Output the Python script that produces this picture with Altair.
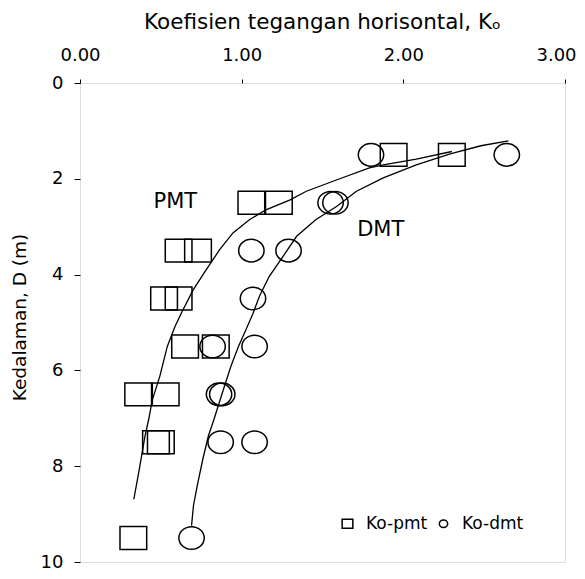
import altair as alt
import pandas as pd

# ---- data ----
depth_pmt = [1.5, 1.5, 2.5, 2.5, 3.5, 3.5, 4.5, 4.5, 5.5, 5.5, 6.5, 6.5, 7.5, 7.5, 9.5]
ko_pmt = [1.94, 2.30, 1.06, 1.23, 0.61, 0.73, 0.52, 0.61, 0.65, 0.84, 0.36, 0.53, 0.47, 0.50, 0.33]

depth_dmt = [1.5, 1.5, 2.5, 2.5, 3.5, 3.5, 4.5, 5.5, 5.5, 6.5, 6.5, 7.5, 7.5, 9.5]
ko_dmt = [1.80, 2.64, 1.55, 1.58, 1.06, 1.29, 1.07, 0.82, 1.08, 0.86, 0.88, 0.87, 1.08, 0.69]

# fitted trend curves (traced)
curve_pmt_ko = [2.30, 2.08, 1.876, 1.79, 1.59, 1.40, 1.30, 1.15, 1.05, 0.946, 0.864, 0.78, 0.70,
                0.63, 0.587, 0.540, 0.494, 0.448, 0.425, 0.402, 0.367, 0.333]
curve_pmt_d = [1.43, 1.59, 1.71, 1.77, 2.02, 2.26, 2.44, 2.65, 2.85, 3.13, 3.48, 3.90, 4.32,
               4.78, 5.09, 5.50, 6.12, 6.61, 7.02, 7.37, 8.06, 8.69]
curve_dmt_ko = [2.65, 2.48, 2.29, 2.08, 1.876, 1.71, 1.587, 1.46, 1.34, 1.256, 1.17, 1.11,
                1.07, 1.025, 0.98, 0.933, 0.887, 0.829, 0.794, 0.76, 0.725, 0.702, 0.69]
curve_dmt_d = [1.21, 1.31, 1.48, 1.71, 1.98, 2.26, 2.58, 2.85, 3.20, 3.62, 4.04, 4.45,
               4.81, 5.16, 5.50, 5.92, 6.40, 7.02, 7.37, 7.85, 8.41, 8.82, 9.24]

x_ticks = [0, 1, 2, 3]
y_ticks = [0, 2, 4, 6, 8, 10]

labels_text = ["PMT", "DMT"]
labels_ko = [0.59, 1.86]
labels_d = [2.60, 3.20]

series_names = ["Ko-pmt", "Ko-dmt"]

# ---- tables ----
pts = pd.DataFrame({
    "ko": ko_pmt + ko_dmt,
    "depth": depth_pmt + depth_dmt,
    "series": [series_names[0]] * len(ko_pmt) + [series_names[1]] * len(ko_dmt),
})
lines = pd.DataFrame({
    "ko": curve_pmt_ko + curve_dmt_ko,
    "depth": curve_pmt_d + curve_dmt_d,
    "curve": ["PMT"] * len(curve_pmt_ko) + ["DMT"] * len(curve_dmt_ko),
    "ord": list(range(len(curve_pmt_ko))) + list(range(len(curve_dmt_ko))),
})
labels = pd.DataFrame({"ko": labels_ko, "depth": labels_d, "text": labels_text})

# marker shapes (slightly wide, like the reference)
sq_path = "M-1,-0.857L1,-0.857L1,0.857L-1,0.857Z"
a, b, k = 0.78, 0.694, 0.5523
el_path = (f"M{-a},0C{-a},{-k*b:.4f} {-k*a:.4f},{-b} 0,{-b}"
           f"C{k*a:.4f},{-b} {a},{-k*b:.4f} {a},0"
           f"C{a},{k*b:.4f} {k*a:.4f},{b} 0,{b}"
           f"C{-k*a:.4f},{b} {-a},{k*b:.4f} {-a},0Z")

FONT = "DejaVu Sans"

xscale = alt.Scale(domain=[0, 3], nice=False, zero=False)
yscale = alt.Scale(domain=[0, 10], reverse=True, nice=False)

x_enc = alt.X("ko:Q", scale=xscale, axis=alt.Axis(
    orient="top", values=x_ticks, format=".2f", title="Koefisien tegangan horisontal, Kₒ",
    titleFontSize=21.5, titleFontWeight="normal", titleX=242, titleY=-55, titleBaseline="alphabetic",
    titleAlign="center", labelFontSize=18, labelBaseline="alphabetic", labelPadding=19,
    labelOffset={"condition": {"test": "datum.value >= 3", "value": -9}, "value": 0},
    tickSize=4, grid=False, domain=False, labelColor="black", tickColor="black", titleColor="black",
    labelFlush=False, titleFont=FONT, labelFont=FONT))
y_enc = alt.Y("depth:Q", scale=yscale, axis=alt.Axis(
    orient="left", values=y_ticks, format="d", title="Kedalaman, D (m)",
    titleFontSize=18.5, titleFontWeight="normal", titleX=-55, titleY=234, titleBaseline="alphabetic",
    titleAlign="center", labelFontSize=18, labelPadding=11, tickSize=6, grid=False, domain=False,
    labelColor="black", tickColor="black", titleColor="black", labelFlush=False,
    titleFont=FONT, labelFont=FONT))

shape_scale = alt.Scale(domain=series_names, range=[sq_path, el_path])

line_layer = alt.Chart(lines).mark_line(color="black", strokeWidth=1.3).encode(
    x=x_enc, y=y_enc, detail="curve:N", order="ord:Q")

sq_layer = alt.Chart(pts).transform_filter(alt.datum.series == series_names[0]).mark_point(
    filled=False, color="black", strokeWidth=1.5, size=713, opacity=1).encode(
    x=x_enc, y=y_enc,
    shape=alt.Shape("series:N", scale=shape_scale, legend=alt.Legend(
        title=None, orient="none", legendX=259, legendY=432, direction="horizontal",
        labelFontSize=17, labelFont=FONT, labelColor="black", symbolSize=114, symbolStrokeWidth=1.5,
        symbolStrokeColor="black", symbolFillColor="transparent", labelOffset=10,
        columnPadding=7, padding=0, symbolOpacity=1)))

ci_layer = alt.Chart(pts).transform_filter(alt.datum.series == series_names[1]).mark_point(
    filled=False, color="black", strokeWidth=1.5, size=1060, opacity=1).encode(
    x=x_enc, y=y_enc, shape=alt.Shape("series:N", scale=shape_scale))

text_layer = alt.Chart(labels).mark_text(
    fontSize=21, font=FONT, color="black", align="center", baseline="alphabetic").encode(
    x=x_enc, y=y_enc, text="text:N")

chart = alt.layer(line_layer, sq_layer, ci_layer, text_layer).properties(
    width=485, height=479,
    autosize=alt.AutoSizeParams(type="none"),
    padding={"left": 72, "top": 75, "right": 12, "bottom": 9},
    background="white",
).configure_view(stroke="black", strokeWidth=1.5).configure(font=FONT)

chart.save("out.html", embed_options={"renderer": "svg", "actions": False})
